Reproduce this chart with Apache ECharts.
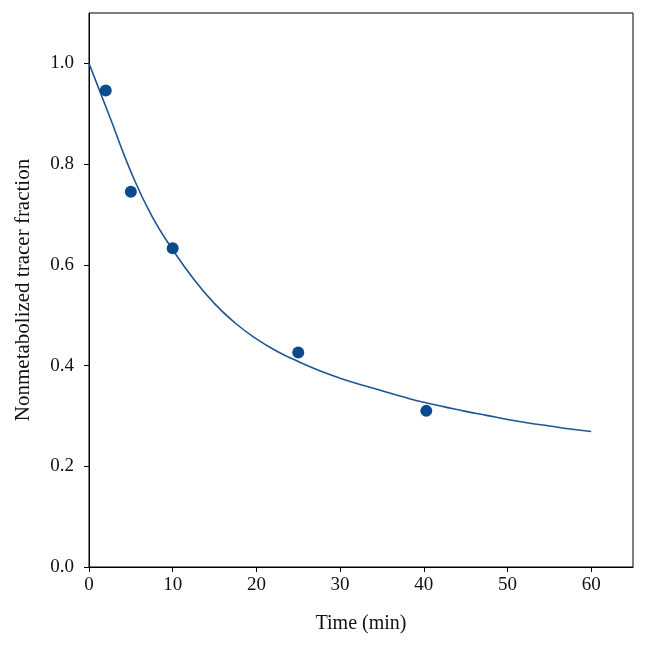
<!DOCTYPE html>
<html>
<head>
<meta charset="utf-8">
<script src="https://cdn.jsdelivr.net/npm/echarts@6/dist/echarts.min.js"></script>
<style>html,body{margin:0;padding:0;background:#fff}#c{width:648px;height:647px}</style>
</head>
<body>
<div id="c"></div>
<script>
// Measured points
const pointTimes = [2, 5, 10, 25, 40.3];
const pointValues = [0.946, 0.745, 0.633, 0.426, 0.31];
// Fitted curve
const curveTimes = [0, 2.5, 5, 7.5, 10, 12.5, 15, 17.5, 20, 22.5, 25, 27.5, 30, 32.5, 35, 37.5, 40, 42.5, 45, 47.5, 50, 52.5, 55, 57.5, 60];
const curveValues = [1.0, 0.893, 0.785, 0.697, 0.630, 0.572, 0.523, 0.484, 0.453, 0.428, 0.408, 0.390, 0.375, 0.362, 0.350, 0.338, 0.327, 0.318, 0.309, 0.301, 0.293, 0.286, 0.280, 0.274, 0.269];
const xTicks = [0, 10, 20, 30, 40, 50, 60];
const yTicks = [0, 0.2, 0.4, 0.6, 0.8, 1.0];

const font = 'Liberation Serif';
const chart = echarts.init(document.getElementById('c'));
chart.setOption({
  animation: false,
  grid: {left: 89, right: 15, top: 13, bottom: 80, show: true, borderColor: '#000', borderWidth: 1,
    containLabel: false, outerBoundsMode: 'none'},
  xAxis: {
    type: 'value', min: 0, max: 65,
    name: 'Time (min)', nameLocation: 'middle', nameGap: 47,
    nameTextStyle: {fontFamily: font, fontSize: 20, color: '#111'},
    axisLine: {show: true, lineStyle: {color: '#000', width: 1}},
    axisTick: {show: true, length: 5, lineStyle: {color: '#000'}, customValues: xTicks},
    axisLabel: {fontFamily: font, fontSize: 19, color: '#111', margin: 9, customValues: xTicks},
    splitLine: {show: false}
  },
  yAxis: {
    type: 'value', min: 0, max: 1.1,
    name: 'Nonmetabolized tracer fraction', nameLocation: 'middle', nameGap: 55,
    nameTextStyle: {fontFamily: font, fontSize: 21, color: '#111'},
    axisLine: {show: true, lineStyle: {color: '#000', width: 1}},
    axisTick: {show: true, length: 5, lineStyle: {color: '#000'}, customValues: yTicks},
    axisLabel: {fontFamily: font, fontSize: 19, color: '#111', margin: 15, customValues: yTicks,
      formatter: v => v.toFixed(1)},
    splitLine: {show: false}
  },
  series: [
    {type: 'line', data: curveTimes.map((t, i) => [t, curveValues[i]]), smooth: 0.5, showSymbol: false,
      lineStyle: {color: '#1f5592', width: 1.6}, z: 2},
    {type: 'scatter', data: pointTimes.map((t, i) => [t, pointValues[i]]), symbolSize: 12,
      itemStyle: {color: '#0b4a8c', opacity: 1}, z: 3}
  ]
});
</script>
</body>
</html>
